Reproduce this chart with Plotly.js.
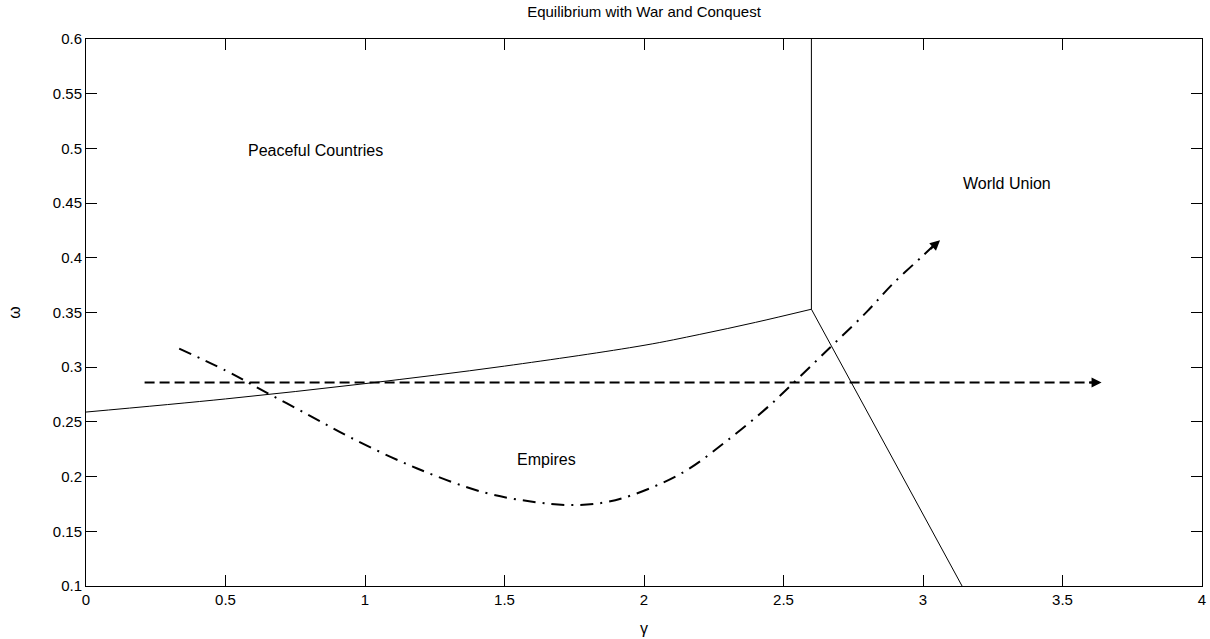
<!DOCTYPE html>
<html>
<head>
<meta charset="utf-8">
<script src="https://cdn.plot.ly/plotly-3.0.1.min.js"></script>
<style>html,body{margin:0;padding:0;background:#fff;}#chart{width:1210px;height:639px;}</style>
</head>
<body>
<div id="chart"></div>
<script>
// Lower boundary between Peaceful Countries and Empires
const boundaryX = [0, 0.5, 1.0, 1.5, 2.0, 2.2, 2.4, 2.6];
const boundaryY = [0.259, 0.271, 0.285, 0.301, 0.320, 0.330, 0.341, 0.353];
// Vertical boundary (World Union)
const verticalX = [2.6, 2.6];
const verticalY = [0.353, 0.6];
// Descending boundary
const descX = [2.6, 3.14];
const descY = [0.353, 0.1];
// Dashed horizontal path
const dashX = [0.21, 3.62];
const dashY = [0.286, 0.286];
// Dash-dot path
const pathX = [0.334, 0.5, 0.624, 0.8, 0.946, 1.185, 1.424, 1.6, 1.73, 1.85, 1.962, 2.141, 2.296, 2.45, 2.529, 2.667, 2.8, 2.891, 3.0, 3.05];
const pathY = [0.317, 0.297, 0.280, 0.256, 0.236, 0.2076, 0.1857, 0.177, 0.174, 0.176, 0.1835, 0.204, 0.2325, 0.265, 0.284, 0.318, 0.351, 0.376, 0.402, 0.414];
// Arrow tips
const dashTip = [3.64, 0.286];
const pathTip = [3.061, 0.416];
// Region labels
const labelText = ["Peaceful Countries", "Empires", "World Union"];
const labelX = [0.821, 1.651, 3.3];
const labelY = [0.498, 0.216, 0.4675];

const FONT = "Liberation Sans, Arial, sans-serif";
const thin = {color: "#000", width: 1};

const traces = [
  {x: boundaryX, y: boundaryY, mode: "lines", line: {color: "#000", width: 1, shape: "spline", smoothing: 1}, hoverinfo: "skip"},
  {x: verticalX, y: verticalY, mode: "lines", line: thin, hoverinfo: "skip"},
  {x: descX, y: descY, mode: "lines", line: thin, hoverinfo: "skip"},
  {x: dashX, y: dashY, mode: "lines", line: {color: "#000", width: 2, dash: "10px,5px"}, hoverinfo: "skip"},
  {x: pathX, y: pathY, mode: "lines", line: {color: "#000", width: 2, dash: "13px,7px,2px,7px", shape: "spline", smoothing: 1}, hoverinfo: "skip"}
];

const annotations = labelText.map((t, i) => ({
  x: labelX[i], y: labelY[i], xref: "x", yref: "y", text: t, showarrow: false,
  font: {family: FONT, size: 16, color: "#000"}
}));
annotations.push({x: dashTip[0], y: dashTip[1], xref: "x", yref: "y", ax: -14, ay: 0, text: "", showarrow: true,
  arrowhead: 2, arrowsize: 1, arrowwidth: 2, arrowcolor: "#000"});
annotations.push({x: pathTip[0], y: pathTip[1], xref: "x", yref: "y", ax: -11, ay: 10, text: "", showarrow: true,
  arrowhead: 2, arrowsize: 1, arrowwidth: 2, arrowcolor: "#000"});

const axisCommon = {
  showgrid: false, zeroline: false, showline: true, linecolor: "#000", linewidth: 1,
  mirror: "ticks", ticks: "inside", ticklen: 11, tickcolor: "#000", tickwidth: 1,
  tickfont: {family: FONT, size: 15, color: "#000"}
};

const layout = {
  width: 1210, height: 639,
  margin: {l: 86, r: 8, t: 39, b: 53},
  paper_bgcolor: "#fff", plot_bgcolor: "#fff",
  showlegend: false,
  title: {text: "Equilibrium with War and Conquest", font: {family: FONT, size: 15, color: "#000"},
          x: 0.5, xref: "paper", y: 0.981, yref: "container", yanchor: "middle"},
  xaxis: Object.assign({}, axisCommon, {range: [0, 4], tickvals: [0, 0.5, 1, 1.5, 2, 2.5, 3, 3.5, 4],
    ticktext: ["0", "0.5", "1", "1.5", "2", "2.5", "3", "3.5", "4"],
    title: {text: "γ", font: {family: FONT, size: 16, color: "#000"}, standoff: 15}}),
  yaxis: Object.assign({}, axisCommon, {range: [0.1, 0.6], tickvals: [0.1, 0.15, 0.2, 0.25, 0.3, 0.35, 0.4, 0.45, 0.5, 0.55, 0.6],
    ticktext: ["0.1", "0.15", "0.2", "0.25", "0.3", "0.35", "0.4", "0.45", "0.5", "0.55", "0.6"],
    title: {text: "ω", font: {family: FONT, size: 16, color: "#000"}, standoff: 28}}),
  annotations: annotations
};

Plotly.newPlot("chart", traces, layout, {displayModeBar: false, staticPlot: true});
</script>
</body>
</html>
